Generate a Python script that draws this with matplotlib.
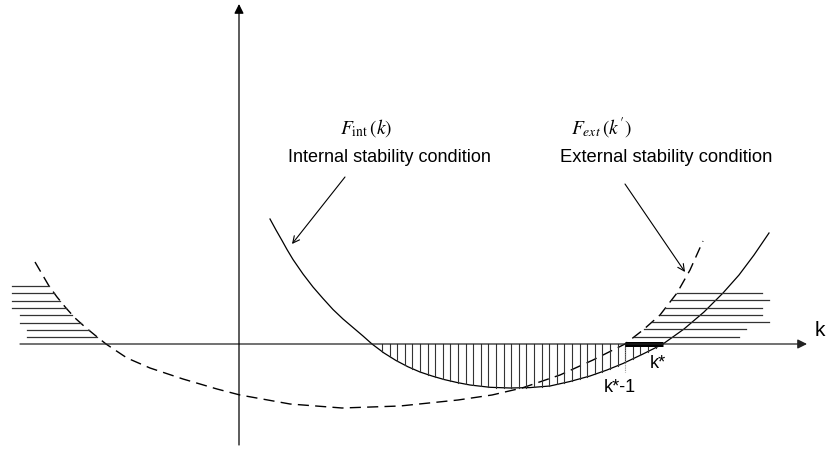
import numpy as np
import matplotlib
matplotlib.use("Agg")
import matplotlib.pyplot as plt

plt.rcParams['font.family'] = ['Liberation Sans', 'DejaVu Sans']
plt.rcParams['mathtext.fontset'] = 'stix'

# Internal stability condition curve F_int(k) (solid)
int_k = [31, 37, 43, 48, 54, 64, 74, 84, 94, 104, 114, 124, 133, 145, 157, 169, 181, 193, 205,
         218, 231, 251, 271, 291, 311, 331, 351, 368, 384, 404, 424, 445, 465, 484, 500, 515, 530]
int_F = [125, 114, 103.5, 94.5, 84.5, 70, 57, 45.5, 34.5, 25, 16.5, 8, 0, -9, -16.5, -22.8, -28, -32, -35.5,
         -38.5, -41, -43.3, -44, -43.6, -42, -37.5, -32, -26, -19.5, -10, 0, 15, 32, 51, 69, 89, 111]

# External stability condition curve F_ext(k') (dashed)
ext_k = [-204, -197, -190, -182, -173, -164, -154, -143, -133, -112, -89, -56, -22, 1, 51, 103,
         161, 219, 253, 283, 321, 354, 386, 404, 421, 438, 451, 464]
ext_F = [82, 70, 58, 47, 36, 26, 17, 8, 0, -14, -24, -35, -45, -51, -60, -64,
         -62, -56, -51, -44, -31, -16, 0, 14, 29, 51, 74, 103]

k_star_minus_1 = 386
k_star = 424

fig = plt.figure(figsize=(8.26, 4.5), dpi=100)
ax = fig.add_axes([0, 0, 1, 1])
ax.set_xlim(-239, 587)
ax.set_ylim(-106, 344)
ax.axis('off')

# axes with arrows
ax.annotate('', xy=(568, 0), xytext=(-219, 0),
            arrowprops=dict(arrowstyle='-|>', mutation_scale=14, lw=0.9, color='#222222',
                            shrinkA=0, shrinkB=0))
ax.annotate('', xy=(0, 340), xytext=(0, -101),
            arrowprops=dict(arrowstyle='-|>', mutation_scale=14, lw=0.9, color='black',
                            shrinkA=0, shrinkB=0))

# curves
ax.plot(int_k, int_F, color='black', lw=0.9)
ax.plot(ext_k, ext_F, color='black', lw=1.0, linestyle=(0, (8, 4.5)))

# vertical hatching between axis and internal curve
for hk in np.arange(143, 424, 7.6):
    yb = np.interp(hk, int_k, int_F)
    ax.plot([hk, hk], [0, yb], color='#333333', lw=0.8)

# horizontal hatching
imin = int(np.argmin(ext_F))
left_k = ext_k[:imin + 1][::-1]
left_F = ext_F[:imin + 1][::-1]
right_k = ext_k[imin:]
right_F = ext_F[imin:]
for F, x0 in zip([58, 51, 43, 36, 29, 21, 14, 7], [-227, -227, -227, -227, -219, -219, -212, -212]):
    x1 = np.interp(F, left_F, left_k)
    ax.plot([x0, x1], [F, F], color='#333333', lw=0.9)
for F, x1 in zip([51, 44, 36, 29, 22, 15, 7], [523, 530, 523, 523, 530, 507, 500]):
    x0 = np.interp(F, right_F, right_k)
    ax.plot([x0, x1], [F, F], color='#333333', lw=0.9)

# black bar between k*-1 and k*
ax.plot([k_star_minus_1, k_star], [-0.3, -0.3], color='black', lw=3.6, solid_capstyle='butt')
ax.plot([k_star_minus_1, k_star_minus_1], [-3, -28], color='#888888', lw=0.8, linestyle=(0, (1, 1)))

# labels
ax.text(127, 216, r'$F_{\mathrm{int}}\,\left(k\right)$', fontsize=14, ha='center', va='center')
ax.text(363, 216, r"$F_{ext}\,\left(k\,'\right)$", fontsize=14, ha='center', va='center')
ax.text(49, 186, 'Internal stability condition', fontsize=13, ha='left', va='center')
ax.text(321, 186, 'External stability condition', fontsize=13.2, ha='left', va='center')
ax.text(581, 13, 'k', fontsize=15, ha='center', va='center')
ax.text(419, -20, 'k*', fontsize=13, ha='center', va='center')
ax.text(381, -44, 'k*-1', fontsize=13, ha='center', va='center')

# pointer arrows
ax.annotate('', xy=(53, 100), xytext=(106, 167),
            arrowprops=dict(arrowstyle='->', mutation_scale=12, lw=0.8, color='black',
                            shrinkA=0, shrinkB=0))
ax.annotate('', xy=(446, 72), xytext=(386, 160),
            arrowprops=dict(arrowstyle='->', mutation_scale=12, lw=0.8, color='black',
                            shrinkA=0, shrinkB=0))

fig.savefig('out.png', dpi=100)
